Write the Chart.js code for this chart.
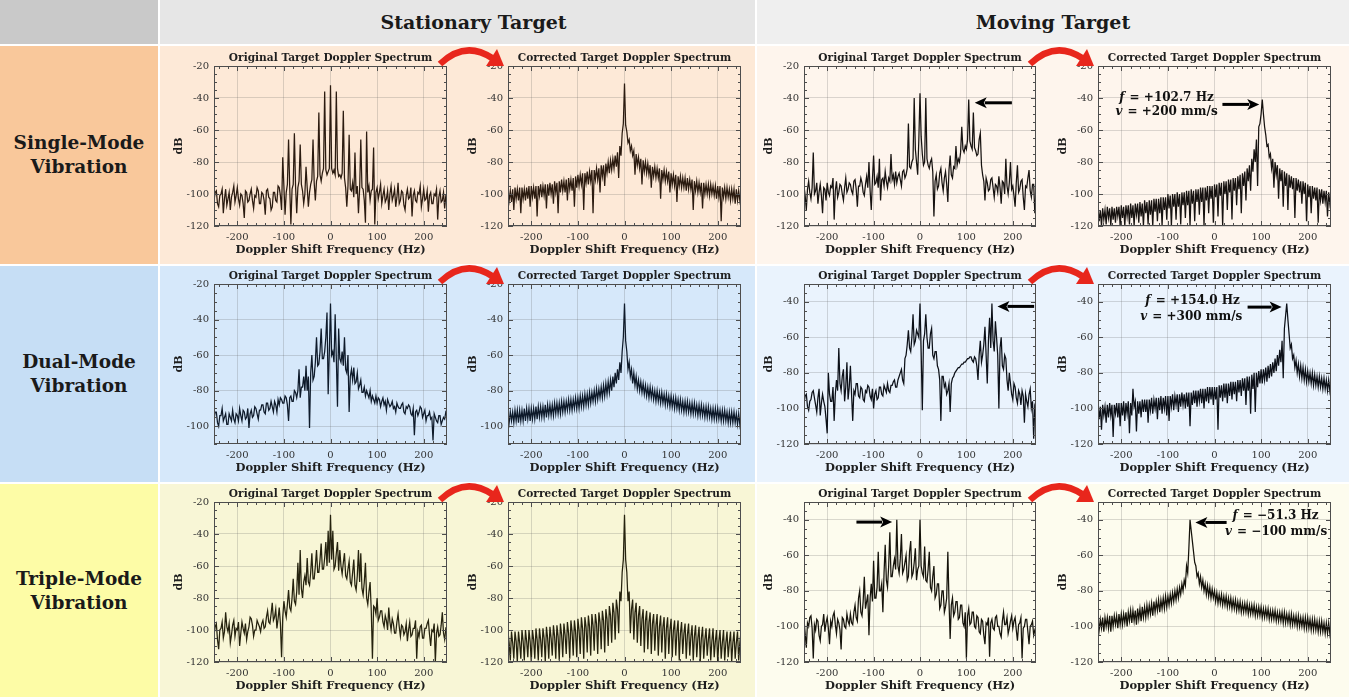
<!DOCTYPE html>
<html lang="en">
<head>
<meta charset="utf-8">
<title>Target Doppler Spectra</title>
<script src="https://cdn.jsdelivr.net/npm/chart.js@4.4.1/dist/chart.umd.min.js"></script>
<style>
  html, body { margin: 0; padding: 0; background: #fff; }
  #fig { position: relative; width: 1349px; height: 697px; overflow: hidden; font-family: "DejaVu Serif", serif; }
  .cell { position: absolute; }
  .head { display: flex; align-items: center; justify-content: center; font-weight: bold; font-size: 19px; color: #1a1a1a; }
  .side { display: flex; align-items: center; justify-content: center; text-align: center; font-weight: bold; font-size: 18.5px; line-height: 24px; color: #1a1a1a; }
  canvas { position: absolute; }
  svg { position: absolute; overflow: visible; }
</style>
</head>
<body>
<div id="fig">
  <div class="cell" style="left:0;top:0;width:158px;height:44px;background:#c9c9c9"></div>
  <div class="cell head" style="left:160px;top:0;width:595px;height:44px;background:#e6e6e6;padding-left:32px;box-sizing:border-box">Stationary Target</div>
  <div class="cell head" style="left:757px;top:0;width:592px;height:44px;background:#efefef">Moving Target</div>

  <div class="cell side" style="left:0;top:46px;width:158px;height:218px;background:#f9c89b">Single-Mode<br>Vibration</div>
  <div class="cell" style="left:160px;top:46px;width:595px;height:218px;background:#fde9d7"></div>
  <div class="cell" style="left:757px;top:46px;width:592px;height:218px;background:#fef5ed"></div>

  <div class="cell side" style="left:0;top:266px;width:158px;height:216px;background:#c6def5">Dual-Mode<br>Vibration</div>
  <div class="cell" style="left:160px;top:266px;width:595px;height:216px;background:#d6e8fa"></div>
  <div class="cell" style="left:757px;top:266px;width:592px;height:216px;background:#eaf3fd"></div>

  <div class="cell side" style="left:0;top:484px;width:158px;height:213px;background:#fdfca6">Triple-Mode<br>Vibration</div>
  <div class="cell" style="left:160px;top:484px;width:595px;height:213px;background:#f8f6d6"></div>
  <div class="cell" style="left:757px;top:484px;width:592px;height:213px;background:#fdfcee"></div>
</div>

<script>
Chart.defaults.font.family = '"DejaVu Serif", serif';
Chart.defaults.color = '#333';

// frequency bins (Hz), shared by all spectra, one row per 50 Hz
const freqHz = [
  -250, -247.5, -245, -242.5, -240, -237.5, -235, -232.5, -230, -227.5, -225, -222.5, -220, -217.5, -215, -212.5, -210, -207.5, -205, -202.5,
  -200, -197.5, -195, -192.5, -190, -187.5, -185, -182.5, -180, -177.5, -175, -172.5, -170, -167.5, -165, -162.5, -160, -157.5, -155, -152.5,
  -150, -147.5, -145, -142.5, -140, -137.5, -135, -132.5, -130, -127.5, -125, -122.5, -120, -117.5, -115, -112.5, -110, -107.5, -105, -102.5,
  -100, -97.5, -95, -92.5, -90, -87.5, -85, -82.5, -80, -77.5, -75, -72.5, -70, -67.5, -65, -62.5, -60, -57.5, -55, -52.5,
  -50, -47.5, -45, -42.5, -40, -37.5, -35, -32.5, -30, -27.5, -25, -22.5, -20, -17.5, -15, -12.5, -10, -7.5, -5, -2.5,
  0, 2.5, 5, 7.5, 10, 12.5, 15, 17.5, 20, 22.5, 25, 27.5, 30, 32.5, 35, 37.5, 40, 42.5, 45, 47.5,
  50, 52.5, 55, 57.5, 60, 62.5, 65, 67.5, 70, 72.5, 75, 77.5, 80, 82.5, 85, 87.5, 90, 92.5, 95, 97.5,
  100, 102.5, 105, 107.5, 110, 112.5, 115, 117.5, 120, 122.5, 125, 127.5, 130, 132.5, 135, 137.5, 140, 142.5, 145, 147.5,
  150, 152.5, 155, 157.5, 160, 162.5, 165, 167.5, 170, 172.5, 175, 177.5, 180, 182.5, 185, 187.5, 190, 192.5, 195, 197.5,
  200, 202.5, 205, 207.5, 210, 212.5, 215, 217.5, 220, 222.5, 225, 227.5, 230, 232.5, 235, 237.5, 240, 242.5, 245, 247.5,
  250
];

const xTicks = [-200, -100, 0, 100, 200];
const dbTicksA = [-120, -100, -80, -60, -40, -20];
const dbTicksB = [-100, -80, -60, -40, -20];
const dbTicksC = [-120, -100, -80, -60, -40];
const dbRangeA = [-120, -20];
const dbRangeB = [-110, -20];
const dbRangeC = [-120, -30];

const titleOrig = 'Original Target Doppler Spectrum';
const titleCorr = 'Corrected Target Doppler Spectrum';
const xTitle = 'Doppler Shift Frequency (Hz)';
const yTitle = 'dB';

// ---- spectra in dB, one value per bin in freqHz ----
const singleStatOrig = [
  -104, -99, -98, -106, -108, -101, -100, -97, -112, -103, -97, -107, -103, -99, -110, -102, -99, -95, -105, -101,
  -96, -103, -107, -100, -101, -106, -115, -98, -99, -105, -104, -100, -97, -104, -109, -101, -102, -96, -98, -106,
  -106, -99, -100, -104, -113, -98, -97, -102, -103, -110, -108, -99, -99, -104, -105, -95, -96, -101, -110, -77,
  -95, -113, -99, -94, -66, -96, -119, -97, -94, -62, -95, -112, -96, -92, -69, -94, -98, -106, -100, -83,
  -96, -108, -99, -94, -91, -66, -93, -104, -92, -89, -49, -88, -92, -87, -84, -36, -85, -88, -86, -84,
  -32, -84, -87, -85, -88, -36, -84, -89, -88, -90, -87, -48, -90, -96, -108, -95, -63, -97, -98, -93,
  -102, -74, -100, -95, -112, -97, -66, -96, -97, -104, -118, -61, -99, -95, -104, -98, -97, -71, -119, -99,
  -96, -103, -99, -94, -106, -101, -97, -105, -103, -98, -110, -100, -95, -104, -101, -97, -108, -102, -93, -106,
  -104, -98, -99, -107, -110, -101, -97, -103, -102, -96, -114, -101, -98, -104, -105, -99, -100, -95, -108, -103,
  -97, -104, -103, -98, -111, -101, -99, -106, -106, -100, -101, -97, -116, -102, -98, -105, -104, -99, -109, -101,
  -100
];
const singleStatCorr = [
  -97, -104, -98, -105, -97, -110, -96, -103, -97, -104, -96, -112, -96, -103, -97, -104, -96, -103, -95, -108,
  -95, -102, -96, -103, -95, -114, -95, -101, -94, -102, -95, -101, -94, -109, -94, -101, -93, -100, -94, -106,
  -92, -99, -93, -112, -92, -99, -91, -98, -92, -99, -91, -104, -90, -97, -91, -98, -90, -108, -89, -96,
  -88, -95, -88, -94, -87, -110, -87, -93, -86, -94, -86, -92, -85, -112, -85, -91, -84, -91, -84, -99,
  -82, -89, -82, -95, -81, -87, -80, -87, -79, -85, -78, -84, -76, -83, -74, -90, -70, -76, -62, -56,
  -31, -57, -61, -68, -66, -73, -70, -76, -73, -88, -75, -82, -77, -84, -78, -94, -79, -86, -80, -87,
  -81, -88, -82, -96, -83, -89, -83, -90, -84, -90, -84, -103, -85, -91, -85, -92, -86, -92, -86, -99,
  -87, -94, -88, -95, -88, -105, -89, -95, -89, -96, -90, -96, -90, -98, -90, -97, -91, -97, -91, -110,
  -92, -98, -92, -99, -93, -99, -93, -109, -93, -100, -94, -100, -94, -101, -94, -100, -95, -101, -95, -103,
  -95, -102, -95, -117, -96, -102, -96, -103, -96, -102, -97, -104, -97, -103, -97, -106, -97, -104, -98, -104,
  -98
];
const singleMoveOrig = [
  -95, -101, -110, -97, -92, -99, -103, -96, -74, -100, -98, -93, -106, -99, -94, -101, -112, -96, -97, -104,
  -93, -99, -101, -95, -96, -90, -116, -98, -92, -102, -99, -94, -95, -100, -104, -96, -90, -99, -97, -93,
  -94, -98, -100, -92, -91, -97, -108, -95, -95, -90, -93, -99, -101, -94, -89, -96, -80, -98, -110, -91,
  -76, -94, -93, -89, -96, -78, -104, -91, -90, -95, -86, -92, -96, -90, -92, -75, -91, -88, -94, -86,
  -93, -89, -87, -91, -95, -86, -85, -90, -88, -84, -56, -83, -84, -80, -78, -40, -72, -80, -88, -66,
  -37, -64, -75, -82, -80, -40, -78, -82, -84, -80, -78, -86, -114, -92, -88, -97, -95, -87, -84, -93,
  -98, -90, -86, -94, -105, -85, -76, -88, -90, -83, -84, -70, -82, -78, -80, -74, -58, -72, -74, -70,
  -72, -66, -41, -67, -70, -72, -49, -71, -73, -76, -75, -66, -62, -82, -88, -92, -104, -90, -93, -98,
  -97, -91, -90, -96, -102, -94, -95, -99, -89, -96, -106, -92, -93, -100, -78, -95, -100, -93, -80, -97,
  -95, -101, -108, -93, -82, -99, -97, -92, -91, -102, -110, -95, -96, -90, -85, -98, -102, -94, -94, -112,
  -99
];
const singleMoveCorr = [
  -109, -117, -110, -120, -109, -116, -110, -119, -108, -115, -109, -120, -108, -116, -109, -118, -108, -114, -108, -120,
  -107, -115, -108, -120, -107, -114, -107, -119, -106, -115, -107, -120, -106, -113, -106, -118, -105, -114, -106, -120,
  -104, -112, -105, -119, -104, -113, -104, -120, -103, -111, -103, -117, -103, -112, -102, -120, -102, -110, -102, -116,
  -100, -109, -101, -120, -100, -108, -100, -116, -99, -108, -100, -119, -99, -107, -99, -115, -98, -107, -98, -120,
  -97, -106, -98, -117, -97, -105, -97, -113, -96, -105, -96, -120, -96, -104, -95, -112, -95, -103, -95, -118,
  -94, -102, -94, -114, -93, -101, -93, -120, -92, -100, -92, -110, -91, -99, -91, -116, -90, -98, -90, -107,
  -89, -97, -88, -112, -87, -95, -86, -104, -84, -92, -82, -98, -78, -86, -72, -80, -66, -95, -58, -56,
  -50, -41, -50, -58, -63, -70, -69, -77, -75, -84, -78, -96, -80, -88, -82, -103, -84, -92, -85, -108,
  -86, -95, -87, -110, -88, -96, -89, -97, -90, -115, -90, -98, -91, -99, -92, -106, -92, -100, -93, -117,
  -94, -102, -95, -112, -95, -103, -96, -104, -96, -118, -97, -104, -97, -106, -98, -105, -98, -114, -99, -106,
  -100
];
const dualStatOrig = [
  -96, -92, -92, -98, -100, -94, -94, -90, -97, -95, -93, -99, -99, -93, -95, -97, -91, -96, -98, -93,
  -94, -97, -90, -94, -97, -91, -92, -96, -95, -90, -101, -93, -91, -95, -94, -89, -90, -93, -96, -91,
  -91, -88, -88, -92, -93, -87, -87, -91, -90, -86, -89, -92, -86, -88, -92, -85, -88, -84, -85, -87,
  -87, -83, -84, -88, -97, -84, -83, -86, -86, -80, -81, -84, -80, -68, -84, -78, -78, -72, -80, -66,
  -80, -72, -101, -70, -60, -74, -72, -64, -50, -66, -65, -58, -45, -62, -62, -58, -50, -36, -82, -58,
  -31, -60, -58, -64, -37, -62, -89, -45, -62, -64, -58, -66, -50, -68, -70, -60, -92, -72, -68, -74,
  -67, -76, -75, -70, -79, -77, -74, -81, -81, -78, -83, -80, -82, -84, -80, -86, -83, -85, -87, -83,
  -87, -84, -85, -89, -86, -84, -88, -86, -91, -85, -87, -89, -88, -86, -90, -89, -92, -87, -89, -90,
  -90, -88, -87, -92, -93, -89, -90, -88, -89, -93, -94, -90, -105, -92, -91, -94, -92, -89, -90, -95,
  -93, -91, -97, -94, -94, -92, -96, -95, -108, -93, -95, -97, -98, -94, -94, -99, -97, -95, -96, -92,
  -93
];
const dualStatCorr = [
  -92, -98, -92, -97, -92, -98, -91, -97, -91, -98, -91, -97, -91, -97, -90, -97, -90, -96, -90, -97,
  -90, -96, -90, -96, -89, -96, -89, -95, -89, -95, -89, -95, -88, -95, -88, -94, -88, -94, -88, -94,
  -87, -93, -87, -93, -87, -93, -86, -92, -86, -92, -86, -91, -85, -91, -85, -91, -85, -90, -84, -90,
  -84, -90, -83, -89, -83, -89, -82, -88, -82, -88, -81, -87, -81, -86, -80, -86, -79, -85, -79, -84,
  -78, -84, -77, -83, -76, -82, -75, -81, -74, -80, -72, -78, -70, -76, -68, -74, -64, -70, -58, -50,
  -31, -52, -58, -68, -64, -72, -68, -76, -70, -77, -72, -79, -74, -80, -75, -81, -76, -82, -77, -83,
  -78, -84, -78, -84, -79, -85, -80, -86, -80, -86, -81, -87, -81, -87, -82, -88, -82, -88, -83, -89,
  -83, -89, -84, -90, -84, -90, -85, -91, -85, -91, -86, -92, -86, -92, -86, -92, -87, -93, -87, -93,
  -87, -93, -88, -94, -88, -94, -88, -94, -89, -95, -89, -95, -89, -95, -90, -96, -90, -96, -90, -96,
  -90, -96, -91, -97, -91, -97, -91, -97, -92, -98, -92, -98, -92, -98, -92, -98, -93, -99, -93, -99,
  -93
];
const dualMoveOrig = [
  -97, -93, -92, -99, -101, -96, -95, -91, -90, -94, -98, -102, -94, -89, -104, -97, -92, -96, -99, -106,
  -114, -80, -92, -96, -96, -88, -107, -92, -84, -90, -66, -86, -90, -82, -78, -96, -88, -74, -95, -88,
  -76, -92, -107, -90, -92, -86, -86, -93, -94, -88, -89, -95, -96, -90, -91, -87, -88, -93, -95, -89,
  -100, -92, -90, -95, -94, -88, -88, -92, -93, -87, -89, -91, -86, -90, -91, -87, -87, -85, -84, -88,
  -88, -84, -82, -80, -78, -84, -86, -72, -70, -64, -56, -66, -68, -60, -47, -64, -62, -56, -58, -60,
  -41, -68, -101, -62, -58, -47, -60, -66, -66, -58, -55, -70, -72, -68, -68, -76, -78, -84, -107, -82,
  -82, -88, -86, -92, -90, -86, -102, -86, -83, -82, -80, -79, -78, -77, -77, -76, -75, -75, -74, -74,
  -73, -72, -72, -71, -71, -73, -74, -71, -72, -76, -84, -70, -62, -74, -70, -64, -54, -70, -86, -62,
  -49, -66, -41, -62, -68, -51, -60, -70, -100, -66, -60, -76, -78, -70, -72, -84, -90, -80, -86, -92,
  -95, -86, -88, -94, -97, -90, -92, -98, -90, -93, -108, -92, -96, -99, -92, -89, -100, -96, -117, -98,
  -96
];
const dualMoveCorr = [
  -98, -106, -99, -112, -98, -104, -99, -108, -98, -105, -97, -104, -98, -116, -98, -103, -97, -105, -97, -110,
  -97, -104, -96, -107, -97, -103, -96, -114, -97, -104, -89, -99, -96, -113, -96, -103, -96, -105, -95, -102,
  -95, -102, -95, -108, -95, -101, -94, -103, -95, -100, -94, -106, -94, -101, -93, -103, -94, -100, -93, -104,
  -93, -107, -93, -99, -92, -101, -93, -98, -92, -102, -92, -99, -91, -98, -92, -100, -91, -99, -91, -110,
  -91, -98, -90, -97, -90, -99, -90, -96, -89, -97, -89, -100, -89, -96, -88, -97, -88, -95, -88, -98,
  -88, -95, -88, -112, -87, -94, -87, -96, -86, -94, -86, -97, -86, -93, -85, -95, -85, -92, -85, -96,
  -84, -91, -84, -93, -83, -90, -83, -98, -82, -90, -82, -103, -81, -89, -80, -102, -80, -88, -79, -86,
  -78, -86, -78, -84, -77, -85, -76, -83, -75, -82, -74, -80, -72, -79, -70, -76, -67, -74, -62, -83,
  -55, -48, -41, -50, -58, -66, -64, -72, -70, -77, -73, -80, -75, -82, -76, -83, -77, -84, -78, -85,
  -79, -85, -80, -86, -80, -87, -81, -87, -82, -88, -82, -88, -83, -89, -83, -89, -84, -90, -84, -90,
  -85
];
const tripleStatOrig = [
  -103, -98, -96, -106, -112, -100, -99, -95, -105, -101, -89, -98, -101, -96, -108, -103, -97, -94, -104, -99,
  -100, -95, -110, -102, -95, -99, -102, -96, -106, -101, -98, -92, -93, -97, -104, -100, -100, -94, -96, -98,
  -101, -96, -94, -99, -98, -92, -88, -95, -96, -90, -83, -94, -92, -87, -99, -93, -86, -96, -117, -92,
  -82, -88, -92, -84, -75, -86, -88, -80, -68, -82, -84, -76, -58, -78, -50, -74, -80, -70, -66, -72,
  -55, -70, -72, -64, -52, -68, -68, -60, -50, -64, -64, -56, -46, -62, -62, -55, -45, -60, -38, -58,
  -28, -56, -38, -62, -60, -52, -45, -63, -50, -60, -65, -58, -52, -66, -68, -62, -57, -70, -72, -64,
  -56, -72, -75, -66, -50, -70, -52, -74, -78, -70, -58, -80, -84, -76, -70, -88, -118, -85, -86, -90,
  -80, -94, -92, -88, -88, -95, -98, -91, -94, -100, -86, -95, -100, -93, -96, -102, -102, -95, -90, -98,
  -104, -97, -98, -103, -101, -96, -107, -100, -95, -104, -103, -99, -99, -94, -118, -101, -104, -98, -97, -105,
  -105, -99, -99, -96, -94, -103, -110, -100, -101, -96, -120, -102, -98, -104, -103, -97, -89, -102, -106, -99,
  -100
];
const tripleStatCorr = [
  -101, -108, -119, -101, -108, -118, -101, -107, -120, -101, -108, -118, -100, -107, -119, -100, -107, -117, -100, -107,
  -120, -100, -106, -118, -99, -106, -119, -99, -106, -117, -99, -105, -120, -98, -105, -118, -98, -105, -116, -97,
  -104, -118, -97, -104, -119, -96, -103, -117, -96, -103, -115, -95, -102, -118, -94, -101, -116, -94, -101, -117,
  -93, -100, -115, -92, -99, -118, -92, -98, -114, -91, -98, -116, -90, -97, -113, -90, -96, -115, -89, -95,
  -112, -88, -94, -114, -87, -93, -110, -85, -91, -108, -83, -89, -106, -81, -87, -102, -76, -82, -64, -56,
  -28, -56, -64, -82, -76, -102, -87, -81, -106, -89, -83, -108, -91, -85, -110, -93, -87, -114, -94, -88,
  -112, -95, -89, -115, -96, -90, -113, -97, -90, -116, -98, -91, -114, -98, -92, -118, -99, -92, -115, -100,
  -93, -117, -100, -94, -116, -101, -94, -119, -102, -95, -115, -102, -96, -118, -103, -96, -116, -104, -97, -119,
  -104, -97, -117, -105, -98, -120, -105, -98, -118, -106, -99, -116, -106, -99, -119, -107, -99, -117, -107, -100,
  -120, -107, -100, -118, -108, -100, -119, -108, -101, -117, -108, -101, -120, -108, -101, -118, -108, -101, -119, -108,
  -101
];
const tripleMoveOrig = [
  -96, -104, -112, -98, -100, -95, -94, -101, -118, -99, -102, -96, -97, -105, -108, -100, -99, -93, -103, -98,
  -95, -101, -110, -97, -100, -94, -92, -99, -104, -96, -98, -102, -113, -95, -96, -100, -101, -93, -97, -99,
  -93, -98, -99, -92, -88, -95, -97, -84, -80, -92, -94, -86, -72, -90, -86, -82, -105, -84, -76, -86,
  -63, -84, -84, -78, -58, -80, -80, -76, -92, -70, -54, -74, -78, -66, -47, -72, -72, -66, -62, -68,
  -40, -66, -70, -62, -48, -70, -68, -64, -60, -74, -72, -58, -52, -72, -70, -64, -56, -74, -68, -66,
  -40, -66, -70, -72, -55, -74, -75, -68, -58, -78, -80, -72, -66, -84, -82, -76, -76, -90, -88, -80,
  -80, -92, -89, -84, -58, -86, -107, -88, -84, -94, -92, -86, -86, -96, -95, -88, -88, -98, -100, -92,
  -118, -94, -90, -99, -98, -92, -92, -100, -101, -94, -95, -103, -104, -96, -97, -105, -110, -98, -99, -95,
  -117, -98, -96, -101, -102, -95, -94, -100, -100, -104, -106, -97, -92, -99, -99, -95, -104, -101, -97, -94,
  -101, -97, -95, -102, -108, -99, -98, -95, -118, -101, -100, -96, -96, -103, -110, -100, -99, -97, -105, -102,
  -100
];
const tripleMoveCorr = [
  -96, -102, -96, -101, -95, -103, -95, -100, -95, -101, -94, -103, -94, -100, -94, -99, -94, -101, -93, -99,
  -93, -99, -93, -98, -92, -100, -92, -97, -91, -98, -91, -97, -91, -99, -90, -96, -90, -97, -89, -95,
  -89, -95, -88, -94, -88, -93, -87, -94, -86, -92, -86, -91, -85, -92, -85, -90, -84, -90, -83, -89,
  -83, -88, -82, -87, -81, -86, -80, -85, -79, -84, -78, -82, -76, -80, -74, -77, -66, -70, -56, -40,
  -46, -52, -58, -64, -66, -72, -70, -76, -72, -78, -74, -80, -76, -82, -77, -83, -78, -84, -79, -84,
  -80, -86, -81, -87, -82, -87, -82, -88, -83, -88, -83, -89, -84, -89, -84, -90, -85, -90, -85, -91,
  -86, -91, -86, -92, -87, -92, -87, -92, -87, -93, -88, -93, -88, -93, -88, -94, -89, -94, -89, -94,
  -89, -95, -90, -95, -90, -95, -90, -96, -91, -96, -91, -96, -91, -97, -92, -97, -92, -97, -92, -98,
  -92, -98, -93, -98, -93, -99, -93, -99, -94, -99, -94, -100, -94, -100, -95, -100, -95, -101, -95, -101,
  -95, -101, -96, -102, -96, -102, -96, -102, -97, -103, -97, -103, -97, -103, -98, -104, -98, -104, -98, -104,
  -98
];

// ---- annotations: arrows [tail, head] in (Hz, dB), notes ----
const arrowSingleOrig = [[198, -43], [118, -43]];
const arrowSingleCorr = [[17, -44], [96, -44]];
const noteSingle = [['f', ' = +102.7 Hz'], ['v', ' = +200 mm/s']];
const notePosSingle = [[-104, -40], [-104, -48.5]];

const arrowDualOrig = [[246, -42.6], [167, -42.6]];
const arrowDualCorr = [[71, -43], [144, -43]];
const noteDual = [['f', ' = +154.0 Hz'], ['v', ' = +300 mm/s']];
const notePosDual = [[-48, -39.6], [-51, -48.4]];

const arrowTripleOrig = [[-137, -41.3], [-60, -41.3]];
const arrowTripleCorr = [[26, -41.5], [-41, -41.5]];
const noteTriple = [['f', ' = \u221251.3 Hz'], ['v', ' = \u2212100 mm/s']];
const notePosTriple = [[130, -38], [131, -47]];

// ---- layout ----
const colLeft = [214, 508, 804, 1098];
const colWidth = [233, 233, 232, 233];
const rowTop = [66, 284, 502];
const plotH = 160;
const padL = 45, padT = 22, padR = 12, padB = 36;

const panels = [
  { row: 0, col: 0, data: singleStatOrig, title: titleOrig, range: dbRangeA, ticks: dbTicksA, color: '#2b1b10' },
  { row: 0, col: 1, data: singleStatCorr, title: titleCorr, range: dbRangeA, ticks: dbTicksA, color: '#2b1b10' },
  { row: 0, col: 2, data: singleMoveOrig, title: titleOrig, range: dbRangeA, ticks: dbTicksA, color: '#161210', arrow: arrowSingleOrig },
  { row: 0, col: 3, data: singleMoveCorr, title: titleCorr, range: dbRangeA, ticks: dbTicksA, color: '#161210', arrow: arrowSingleCorr, note: noteSingle, notePos: notePosSingle },
  { row: 1, col: 0, data: dualStatOrig, title: titleOrig, range: dbRangeB, ticks: dbTicksB, color: '#0e1a2a' },
  { row: 1, col: 1, data: dualStatCorr, title: titleCorr, range: dbRangeB, ticks: dbTicksB, color: '#0e1a2a' },
  { row: 1, col: 2, data: dualMoveOrig, title: titleOrig, range: dbRangeC, ticks: dbTicksC, color: '#0c1018', arrow: arrowDualOrig },
  { row: 1, col: 3, data: dualMoveCorr, title: titleCorr, range: dbRangeC, ticks: dbTicksC, color: '#0c1018', arrow: arrowDualCorr, note: noteDual, notePos: notePosDual },
  { row: 2, col: 0, data: tripleStatOrig, title: titleOrig, range: dbRangeA, ticks: dbTicksA, color: '#25220e' },
  { row: 2, col: 1, data: tripleStatCorr, title: titleCorr, range: dbRangeA, ticks: dbTicksA, color: '#25220e' },
  { row: 2, col: 2, data: tripleMoveOrig, title: titleOrig, range: dbRangeC, ticks: dbTicksC, color: '#15130b', arrow: arrowTripleOrig },
  { row: 2, col: 3, data: tripleMoveCorr, title: titleCorr, range: dbRangeC, ticks: dbTicksC, color: '#15130b', arrow: arrowTripleCorr, note: noteTriple, notePos: notePosTriple }
];

const panelByCanvas = {};

function drawArrow(ctx, x0, y0, x1, y1) {
  const ang = Math.atan2(y1 - y0, x1 - x0);
  const headLen = 12, headW = 5.5;
  const bx = x1 - headLen * Math.cos(ang), by = y1 - headLen * Math.sin(ang);
  ctx.strokeStyle = '#000';
  ctx.fillStyle = '#000';
  ctx.lineWidth = 3;
  ctx.beginPath();
  ctx.moveTo(x0, y0);
  ctx.lineTo(bx + 2 * Math.cos(ang), by + 2 * Math.sin(ang));
  ctx.stroke();
  ctx.beginPath();
  ctx.moveTo(x1, y1);
  ctx.lineTo(bx + headW * Math.sin(ang), by - headW * Math.cos(ang));
  ctx.lineTo(bx + 3 * Math.cos(ang), by + 3 * Math.sin(ang));
  ctx.lineTo(bx - headW * Math.sin(ang), by + headW * Math.cos(ang));
  ctx.closePath();
  ctx.fill();
}

function drawNote(ctx, cx, cy, sym, rest) {
  const fi = 'italic bold 12px "DejaVu Serif"';
  const fb = 'bold 12px "DejaVu Serif"';
  ctx.font = fi;
  const w1 = ctx.measureText(sym).width;
  ctx.font = fb;
  const w2 = ctx.measureText(rest).width;
  const sx = cx - (w1 + w2) / 2;
  ctx.fillStyle = '#111';
  ctx.textAlign = 'left';
  ctx.textBaseline = 'middle';
  ctx.font = fi;
  ctx.fillText(sym, sx, cy);
  ctx.font = fb;
  ctx.fillText(rest, sx + w1 + 1, cy);
}

// box, inner tick marks, panel title, arrows and notes
const framePlugin = {
  id: 'frame',
  afterDatasetsDraw(chart) {
    const p = panelByCanvas[chart.canvas.id];
    const { ctx, chartArea: a, scales: { x, y } } = chart;
    ctx.save();
    ctx.strokeStyle = '#4d4d4d';
    ctx.lineWidth = 1;
    ctx.beginPath();
    for (let v = -240; v <= 240; v += 20) {
      const px = Math.round(x.getPixelForValue(v)) + 0.5;
      const len = v % 100 === 0 ? 5 : 3;
      ctx.moveTo(px, a.bottom); ctx.lineTo(px, a.bottom - len);
      ctx.moveTo(px, a.top); ctx.lineTo(px, a.top + len);
    }
    for (let v = y.min; v <= y.max; v += 5) {
      const py = Math.round(y.getPixelForValue(v)) + 0.5;
      const len = v % 20 === 0 ? 5 : 3;
      ctx.moveTo(a.left, py); ctx.lineTo(a.left + len, py);
      ctx.moveTo(a.right, py); ctx.lineTo(a.right - len, py);
    }
    ctx.stroke();
    ctx.strokeRect(Math.round(a.left) + 0.5, Math.round(a.top) + 0.5, Math.round(a.width) - 1, Math.round(a.height) - 1);

    ctx.fillStyle = '#1e1e1e';
    ctx.font = 'bold 10.6px "DejaVu Serif"';
    ctx.textAlign = 'center';
    ctx.textBaseline = 'middle';
    ctx.fillText(p.title, (a.left + a.right) / 2, a.top - 8);

    if (p.arrow) {
      drawArrow(ctx,
        x.getPixelForValue(p.arrow[0][0]), y.getPixelForValue(p.arrow[0][1]),
        x.getPixelForValue(p.arrow[1][0]), y.getPixelForValue(p.arrow[1][1]));
    }
    if (p.note) {
      p.note.forEach((line, i) => {
        drawNote(ctx, x.getPixelForValue(p.notePos[i][0]), y.getPixelForValue(p.notePos[i][1]), line[0], line[1]);
      });
    }
    ctx.restore();
  }
};

const fig = document.getElementById('fig');

panels.forEach((p, i) => {
  const w = colWidth[p.col] + padL + padR;
  const h = plotH + padT + padB;
  const cv = document.createElement('canvas');
  cv.id = 'spec' + i;
  cv.width = w;
  cv.height = h;
  cv.style.width = w + 'px';
  cv.style.height = h + 'px';
  cv.style.left = (colLeft[p.col] - padL) + 'px';
  cv.style.top = (rowTop[p.row] - padT) + 'px';
  fig.appendChild(cv);
  panelByCanvas[cv.id] = p;

  new Chart(cv.getContext('2d'), {
    type: 'line',
    data: {
      datasets: [{
        data: freqHz.map((f, k) => ({ x: f, y: p.data[k] })),
        borderColor: p.color,
        borderWidth: 1.25,
        pointRadius: 0,
        tension: 0,
        fill: false
      }]
    },
    options: {
      responsive: false,
      animation: false,
      events: [],
      layout: { padding: { top: padT, right: padR, bottom: 0, left: 0 } },
      plugins: { legend: { display: false }, tooltip: { enabled: false } },
      scales: {
        x: {
          type: 'linear',
          min: -250,
          max: 250,
          afterBuildTicks: axis => { axis.ticks = xTicks.map(v => ({ value: v })); },
          afterFit: axis => { axis.height = padB; },
          grid: { color: 'rgba(90,90,90,0.22)', drawTicks: false },
          border: { display: false },
          ticks: { padding: 5, maxRotation: 0, color: '#333', font: { size: 10 } },
          title: { display: true, text: xTitle, color: '#1e1e1e', font: { size: 11.5, weight: 'bold' }, padding: { top: 0, bottom: 5 } }
        },
        y: {
          min: p.range[0],
          max: p.range[1],
          afterBuildTicks: axis => { axis.ticks = p.ticks.map(v => ({ value: v })); },
          afterFit: axis => { axis.width = padL; },
          grid: { color: 'rgba(90,90,90,0.22)', drawTicks: false },
          border: { display: false },
          ticks: { padding: 5, color: '#333', font: { size: 10 } },
          title: { display: true, text: yTitle, color: '#1e1e1e', font: { size: 11, weight: 'bold' }, padding: { top: 4, bottom: 0 } }
        }
      }
    },
    plugins: [framePlugin]
  });
});

// red curved arrows between original and corrected panels
const redArrowSpots = [[437, 42], [1027, 42], [437, 260], [1027, 260], [437, 478], [1027, 478]];
const svgNS = 'http://www.w3.org/2000/svg';
redArrowSpots.forEach(([l, t]) => {
  const s = document.createElementNS(svgNS, 'svg');
  s.setAttribute('width', '75');
  s.setAttribute('height', '32');
  s.style.left = l + 'px';
  s.style.top = t + 'px';
  const path = document.createElementNS(svgNS, 'path');
  path.setAttribute('d', 'M3 22 Q 28 -2 55 16');
  path.setAttribute('fill', 'none');
  path.setAttribute('stroke', '#e8261c');
  path.setAttribute('stroke-width', '6.5');
  const head = document.createElementNS(svgNS, 'polygon');
  head.setAttribute('points', '67,24 49,24 60,7');
  head.setAttribute('fill', '#e8261c');
  s.appendChild(path);
  s.appendChild(head);
  fig.appendChild(s);
});
</script>
</body>
</html>
